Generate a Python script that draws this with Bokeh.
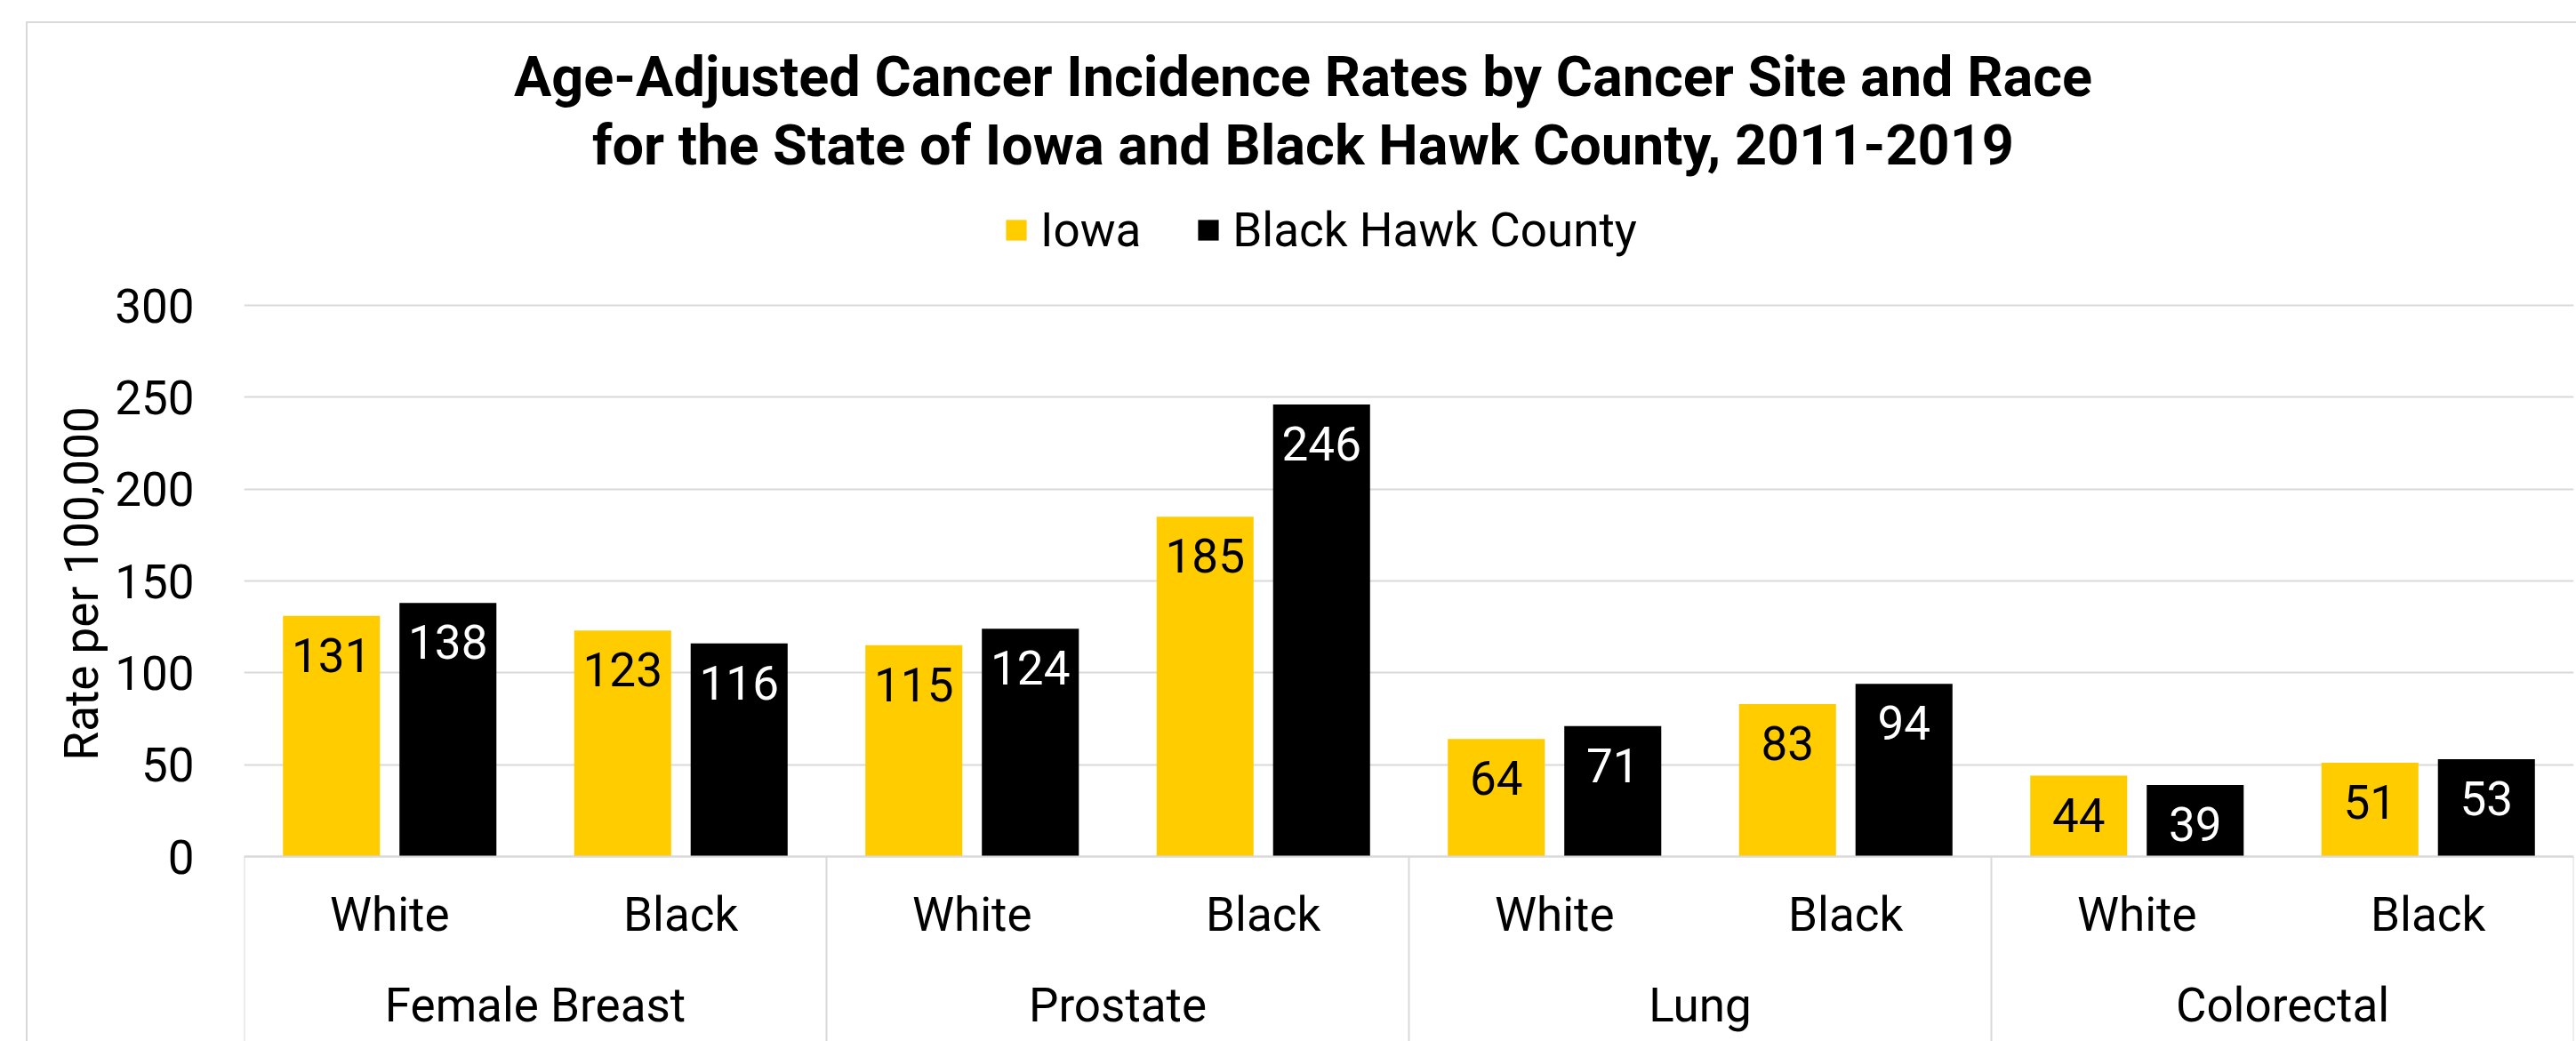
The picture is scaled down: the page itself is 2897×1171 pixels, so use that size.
from bokeh.plotting import figure
from bokeh.models import (ColumnDataSource, FactorRange, Range1d, CategoricalAxis,
                          FixedTicker, Legend, LegendItem, Label, Title)
from bokeh.transform import dodge
from bokeh.core.properties import value
from bokeh.embed import file_html
from bokeh.resources import INLINE

# ---------------- data ----------------
sites = ["Female Breast", "Prostate", "Lung", "Colorectal"]
races = ["White", "Black"]
iowa = [131, 123, 115, 185, 64, 83, 44, 51]
bhc = [138, 116, 124, 246, 71, 94, 39, 53]
series = ["Iowa", "Black Hawk County"]
y_ticks = [0, 50, 100, 150, 200, 250, 300]
title_lines = ["Age-Adjusted Cancer Incidence Rates by Cancer Site and Race",
               "for the State of Iowa and Black Hawk County, 2011-2019"]
y_title = "Rate per 100,000"

# ---------------- styles ----------------
FONT = "Roboto"
GOLD = "#FFCC00"
GRID = "#D9D9D9"
FS = "53px"

factors = [(s, r) for s in sites for r in races]
src = ColumnDataSource(dict(
    x=factors, iowa=iowa, bhc=bhc,
    iowa_lbl=[str(v) for v in iowa], bhc_lbl=[str(v) for v in bhc]))

x_range = FactorRange(factors=factors, factor_padding=0, group_padding=0,
                      subgroup_padding=0, range_padding=0)
site_range = FactorRange(factors=sites, factor_padding=0, range_padding=0)

p = figure(width=2897, height=1171, x_range=x_range,
           y_range=Range1d(-100.64, 465.97),
           output_backend="svg", toolbar_location=None, tools="",
           title=None, x_axis_location=None,
           min_border_left=274, min_border_right=3,
           min_border_top=0, min_border_bottom=0)
p.extra_x_ranges = {"sites": site_range}
p.border_fill_color = None
p.background_fill_color = None
p.outline_line_color = None
p.styles = {
    "background-image": "linear-gradient(#D9D9D9, #D9D9D9), linear-gradient(#D9D9D9, #D9D9D9)",
    "background-size": "2px 100%, 100% 2px",
    "background-position": "29px 24px, 29px 24px",
    "background-repeat": "no-repeat",
}

# y axis
yax = p.yaxis[0]
yax.ticker = FixedTicker(ticks=y_ticks)
yax.bounds = (y_ticks[0], y_ticks[-1])
yax.axis_line_color = None
yax.major_tick_line_color = None
yax.minor_tick_line_color = None
yax.major_label_standoff = 50
yax.major_label_text_font = FONT
yax.major_label_text_font_size = FS
yax.major_label_text_color = "black"

p.xgrid.visible = False
p.ygrid.grid_line_color = GRID
p.ygrid.grid_line_width = 2

# y axis title (left side panel), centred on the 0-300 span
p.add_layout(Title(text=y_title, align="left", offset=316, vertical_align="bottom",
                   standoff=8, text_font=FONT, text_font_size=FS,
                   text_font_style="normal", text_color="black"), "left")

# race axis at y=0
ax_race = CategoricalAxis(fixed_location=0)
ax_race.axis_line_color = GRID
ax_race.axis_line_width = 2
ax_race.major_tick_line_color = None
ax_race.minor_tick_line_color = None
ax_race.major_label_standoff = 28
ax_race.major_label_text_font = FONT
ax_race.major_label_text_font_size = FS
ax_race.major_label_text_color = "black"
ax_race.group_text_color = None
ax_race.separator_line_color = None
p.add_layout(ax_race, "below")

# site axis
ax_site = CategoricalAxis(x_range_name="sites", fixed_location=0)
ax_site.axis_line_color = None
ax_site.major_tick_line_color = None
ax_site.minor_tick_line_color = None
ax_site.major_label_standoff = 130
ax_site.major_label_text_font = FONT
ax_site.major_label_text_font_size = FS
ax_site.major_label_text_color = "black"
p.add_layout(ax_site, "below")

# separators between site groups
sep_src = ColumnDataSource(dict(site=sites))
end_src = ColumnDataSource(dict(site=sites[-1:]))
p.segment(x0=dodge("site", -0.5, range=site_range), x1=dodge("site", -0.5, range=site_range),
          y0=0, y1=p.y_range.start, source=sep_src, x_range_name="sites",
          line_color=GRID, line_width=2)
p.segment(x0=dodge("site", 0.5, range=site_range), x1=dodge("site", 0.5, range=site_range),
          y0=0, y1=p.y_range.start, source=end_src, x_range_name="sites",
          line_color=GRID, line_width=2)

# bars
r_iowa = p.vbar(x=dodge("x", -0.2, range=x_range), top="iowa", width=0.333,
                source=src, fill_color=GOLD, line_color=None)
r_bhc = p.vbar(x=dodge("x", 0.2, range=x_range), top="bhc", width=0.333,
               source=src, fill_color="black", line_color=None)

# value labels
p.text(x=dodge("x", -0.2, range=x_range), y="iowa", text="iowa_lbl", source=src,
       text_align="center", text_baseline="middle", y_offset=44,
       text_font=value(FONT), text_font_size=FS, text_color="black")
p.text(x=dodge("x", 0.2, range=x_range), y="bhc", text="bhc_lbl", source=src,
       text_align="center", text_baseline="middle", y_offset=44,
       text_font=value(FONT), text_font_size=FS, text_color="white")

# legend
legend = Legend(items=[LegendItem(label=series[0], renderers=[r_iowa]),
                       LegendItem(label=series[1], renderers=[r_bhc])],
                orientation="horizontal", location=(854, 881.5),
                glyph_width=29, glyph_height=29, label_standoff=13, spacing=61,
                padding=0, margin=0, border_line_color=None,
                background_fill_color=None,
                label_text_font=FONT, label_text_font_size=FS,
                label_text_color="black")
p.add_layout(legend)

# title
for line, yy in zip(title_lines, [1085, 1008]):
    p.add_layout(Label(x=1191, y=yy, x_units="screen", y_units="screen", text=line,
                       text_align="center", text_baseline="middle",
                       text_font=FONT, text_font_size="63px", text_font_style="bold",
                       text_color="black"))

open("out.html", "w").write(file_html(p, INLINE))
